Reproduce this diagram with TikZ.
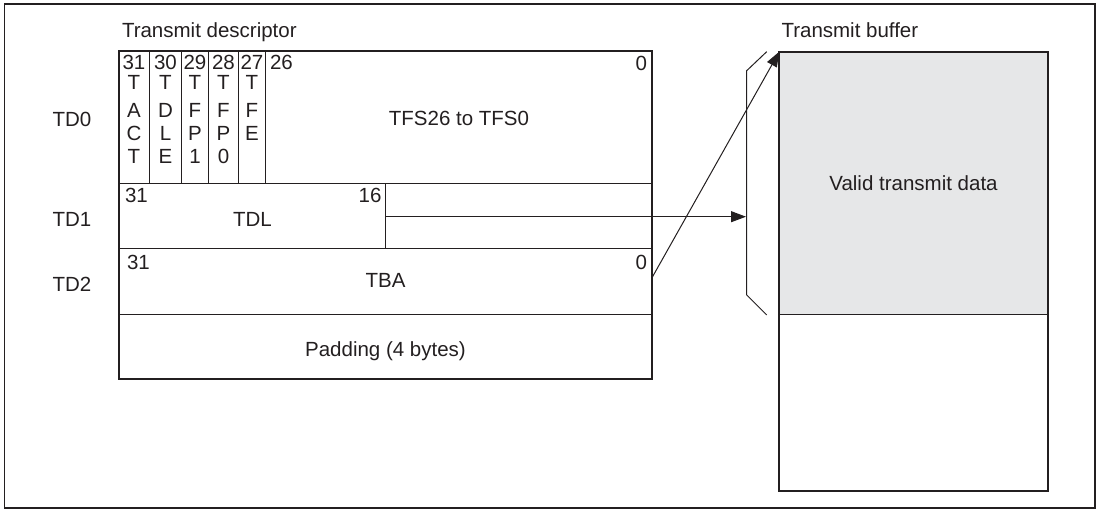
\documentclass[tikz,border=0pt]{standalone}
\usepackage{fontspec}
\setmainfont{Liberation Sans}
\usetikzlibrary{arrows.meta}
\definecolor{ink}{RGB}{35,31,32}
\definecolor{bufgray}{RGB}{230,231,232}
\begin{document}
\begin{tikzpicture}[x=1pt,y=-1pt,
  every node/.style={inner sep=0pt,outer sep=0pt},
  txt/.style={text=ink,font=\fontsize{20.5}{24}\selectfont,anchor=base},
  txtl/.style={txt,anchor=base west},
  txtr/.style={txt,anchor=base east},
  cell/.style={draw=ink,line width=1pt,anchor=north west,minimum width=533pt},
  thin/.style={draw=ink,line width=1pt},
  thickbox/.style={draw=ink,line width=2pt},
  arr/.style={draw=ink,line width=1pt,-{Triangle[length=15pt,width=11pt]}}]
\useasboundingbox (0,0) rectangle (1103,510);
% outer frame
\draw[draw=ink,line width=1.6pt] (4.3,4.3) rectangle (1095,508);
% titles
\node[txtl] (tdesc) at (122,37.5) {Transmit descriptor};
\node[txtl] (tbuf) at (781.5,37.5) {Transmit buffer};
% row labels
\node[txtl] (lTD0) at (52.5,126.5) {TD0};
\node[txtl] (lTD1) at (52.5,226.5) {TD1};
\node[txtl] (lTD2) at (52.5,292) {TD2};
% descriptor rows
\node[cell,minimum height=132.5pt] (r0) at (119,51) {};
\node[cell,minimum height=65.5pt] (r1) at (119,183.5) {};
\node[cell,minimum height=65.5pt] (r2) at (119,249) {};
\node[cell,minimum height=65pt] (r3) at (119,314.5) {};
\draw[thickbox] (r0.north west) rectangle (r3.south east);
% bit columns in TD0
\foreach \x [count=\i] in {149.3,181,208.7,238,265.7}
  \draw[thin] (\x,51) -- (\x,183.5);
\foreach \x/\n/\a/\b/\c/\d [count=\i] in {134/31/T/A/C/T,165.5/30/T/D/L/E,195/29/T/F/P/1,223.5/28/T/F/P/0,252/27/T/F/E/{}}{
  \node[txt] (bn\i) at (\x,70) {\n};
  \node[txt] (ba\i) at (\x,90) {\a};
  \node[txt] (bb\i) at (\x,117.5) {\b};
  \node[txt] (bc\i) at (\x,140.5) {\c};
  \node[txt] (bd\i) at (\x,163.5) {\d};
}
\node[txtl] (b26) at (270,70) {26};
\node[txtr] (b0a) at (647,70.5) {0};
\node[txt] (tfs) at (459,125.5) {TFS26 to TFS0};
% TD1
\draw[thin] (385.7,183.5) -- (385.7,249);
\node[txtl] (b31b) at (125,203) {31};
\node[txtr] (b16) at (381.5,203) {16};
\node[txt] (tdl) at (252.5,226.5) {TDL};
\coordinate (tdlsplit) at (385.7,216.7);
% TD2
\node[txtl] (b31c) at (127,270) {31};
\node[txtr] (b0b) at (647,270) {0};
\node[txt] (tba) at (385.5,288) {TBA};
\coordinate (tbaout) at (652,277.7);
% padding
\node[txt] (pad) at (385.5,356.5) {Padding (4 bytes)};
% transmit buffer
\node[draw=ink,line width=1pt,fill=bufgray,anchor=north west,minimum width=268.4pt,minimum height=262.6pt] (valid) at (779.3,51.7) {};
\node[draw=ink,line width=1pt,anchor=north west,minimum width=268.4pt,minimum height=176.4pt] (rest) at (779.3,314.3) {};
\draw[thickbox] (valid.north west) rectangle (rest.south east);
\node[txt] (vtd) at (913.5,191) {Valid transmit data};
% bracket
\coordinate (bk1) at (766.7,51.7);
\coordinate (bk2) at (746.7,70.7);
\coordinate (bk3) at (746.7,295);
\coordinate (bk4) at (766.7,315);
\draw[thin] (bk1) -- (bk2) -- (bk3) -- (bk4);
% arrows
\coordinate (bkmid) at (746,216.7);
\draw[arr] (tdlsplit) -- (bkmid);
\draw[arr] (tbaout) -- (valid.north west);
\end{tikzpicture}
\end{document}
